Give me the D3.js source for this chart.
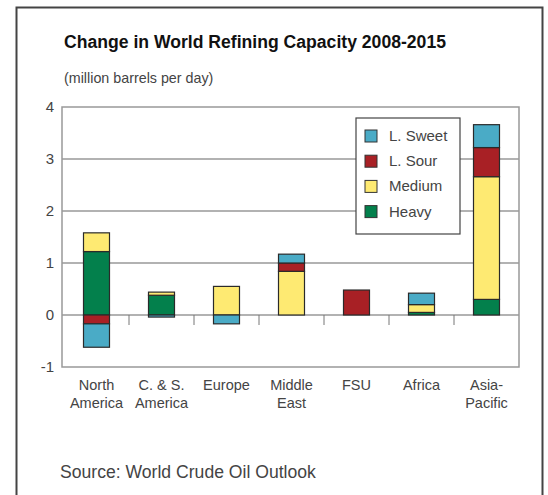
<!DOCTYPE html>
<html>
<head>
<meta charset="utf-8">
<script src="https://cdn.jsdelivr.net/npm/d3@7.9.0/dist/d3.min.js"></script>
<style>
  body { margin: 0; background: #fff; }
  svg { display: block; font-family: "Liberation Sans", Arial, sans-serif; }
</style>
</head>
<body>
<svg id="chart" width="548" height="495"></svg>
<script>
// regions along the x axis (two-line labels)
const regions = ["North America", "C. & S. America", "Europe", "Middle East", "FSU", "Africa", "Asia-Pacific"];
const regionLines = [["North", "America"], ["C. & S.", "America"], ["Europe"], ["Middle", "East"], ["FSU"], ["Africa"], ["Asia-", "Pacific"]];

// change in capacity, million barrels per day
const heavy  = [1.22, 0.38, 0.00, 0.00, 0.00, 0.05, 0.30];
const medium = [0.36, 0.06, 0.55, 0.84, 0.00, 0.15, 2.36];
const lSour  = [-0.17, 0.00, 0.00, 0.16, 0.48, 0.00, 0.56];
const lSweet = [-0.45, -0.04, -0.17, 0.17, 0.00, 0.22, 0.44];

const yTicks = [-1, 0, 1, 2, 3, 4];

const keys = ["Heavy", "Medium", "L. Sour", "L. Sweet"];
const legendKeys = ["L. Sweet", "L. Sour", "Medium", "Heavy"];
const colors = {"L. Sweet": "#4aabc6", "L. Sour": "#a82025", "Medium": "#feea72", "Heavy": "#03804c"};

const rows = regions.map((r, i) => ({
  region: r,
  "Heavy": heavy[i],
  "Medium": medium[i],
  "L. Sour": lSour[i],
  "L. Sweet": lSweet[i]
}));

const svg = d3.select("#chart");

// outer frame (runs off the bottom)
svg.append("path")
   .attr("d", "M16.5,500 V7.5 H542.5 V500")
   .attr("fill", "none")
   .attr("stroke", "#444")
   .attr("stroke-width", 2);

svg.append("text")
   .attr("x", 64).attr("y", 48)
   .style("font-size", "17.6px").style("font-weight", "bold")
   .attr("fill", "#111")
   .text("Change in World Refining Capacity 2008-2015");

svg.append("text")
   .attr("x", 64).attr("y", 83)
   .style("font-size", "14.3px")
   .attr("fill", "#444")
   .text("(million barrels per day)");

const plotL = 62, plotR = 519, plotT = 107, plotB = 367;

let x = d3.scaleBand().domain(regions).range([plotL + 2, plotR]);
let y = d3.scaleLinear().domain([-1, 4]).range([plotB, plotT]);

// gridlines
svg.append("g")
   .selectAll("line")
   .data(yTicks.filter(t => t > -1 && t < 4))
   .enter()
   .append("line")
   .attr("x1", plotL).attr("x2", plotR)
   .attr("y1", d => y(d)).attr("y2", d => y(d))
   .attr("stroke", "#999")
   .attr("stroke-width", 1.3);

// plot frame
svg.append("rect")
   .attr("x", plotL).attr("y", plotT)
   .attr("width", plotR - plotL).attr("height", plotB - plotT)
   .attr("fill", "none")
   .attr("stroke", "#999")
   .attr("stroke-width", 1.5);

// y tick labels
svg.append("g")
   .selectAll("text")
   .data(yTicks)
   .enter()
   .append("text")
   .attr("x", plotL - 8)
   .attr("y", d => y(d) + 5)
   .attr("text-anchor", "end")
   .style("font-size", "15px")
   .attr("fill", "#444")
   .text(d => d);

// small ticks between categories, hanging from zero line
svg.append("g")
   .selectAll("line")
   .data(regions.slice(1))
   .enter()
   .append("line")
   .attr("x1", d => x(d)).attr("x2", d => x(d))
   .attr("y1", y(0)).attr("y2", y(0) + 10)
   .attr("stroke", "#777")
   .attr("stroke-width", 1);

// stacked bars
let stack = d3.stack().keys(keys).offset(d3.stackOffsetDiverging);
let series = stack(rows);
let barW = 26;

svg.append("g")
   .selectAll("g")
   .data(series)
   .enter()
   .append("g")
   .attr("fill", d => colors[d.key])
   .selectAll("rect")
   .data(d => d.filter(s => s[1] - s[0] !== 0))
   .enter()
   .append("rect")
   .attr("x", d => x(d.data.region) + x.bandwidth() / 2 - barW / 2)
   .attr("width", barW)
   .attr("y", d => y(Math.max(d[0], d[1])))
   .attr("height", d => Math.abs(y(d[0]) - y(d[1])))
   .attr("stroke", "#2a2a2a")
   .attr("stroke-width", 1.2);

// x labels
let xl = svg.append("g")
   .selectAll("text")
   .data(regions)
   .enter()
   .append("text")
   .attr("x", d => x(d) + x.bandwidth() / 2)
   .attr("y", 390)
   .attr("text-anchor", "middle")
   .style("font-size", "14.5px")
   .attr("fill", "#444");
xl.selectAll("tspan")
  .data((d, i) => regionLines[i])
  .enter()
  .append("tspan")
  .attr("x", function () { return d3.select(this.parentNode).attr("x"); })
  .attr("dy", (d, i) => i === 0 ? 0 : 18)
  .text(d => d);

// legend
let lg = svg.append("g").attr("transform", "translate(356,118)");
lg.append("rect")
  .attr("width", 104).attr("height", 116)
  .attr("fill", "#fff")
  .attr("stroke", "#444")
  .attr("stroke-width", 1.2);
let items = lg.selectAll("g")
  .data(legendKeys)
  .enter()
  .append("g")
  .attr("transform", (d, i) => `translate(9,${18 + i * 25.2})`);
items.append("rect")
  .attr("x", 0).attr("y", -6)
  .attr("width", 12).attr("height", 12)
  .attr("fill", d => colors[d])
  .attr("stroke", "#333")
  .attr("stroke-width", 1);
items.append("text")
  .attr("x", 24).attr("y", 5)
  .style("font-size", "15px")
  .attr("fill", "#444")
  .text(d => d);

svg.append("text")
   .attr("x", 60).attr("y", 478)
   .style("font-size", "17.6px")
   .attr("fill", "#444")
   .text("Source: World Crude Oil Outlook");
</script>
</body>
</html>
